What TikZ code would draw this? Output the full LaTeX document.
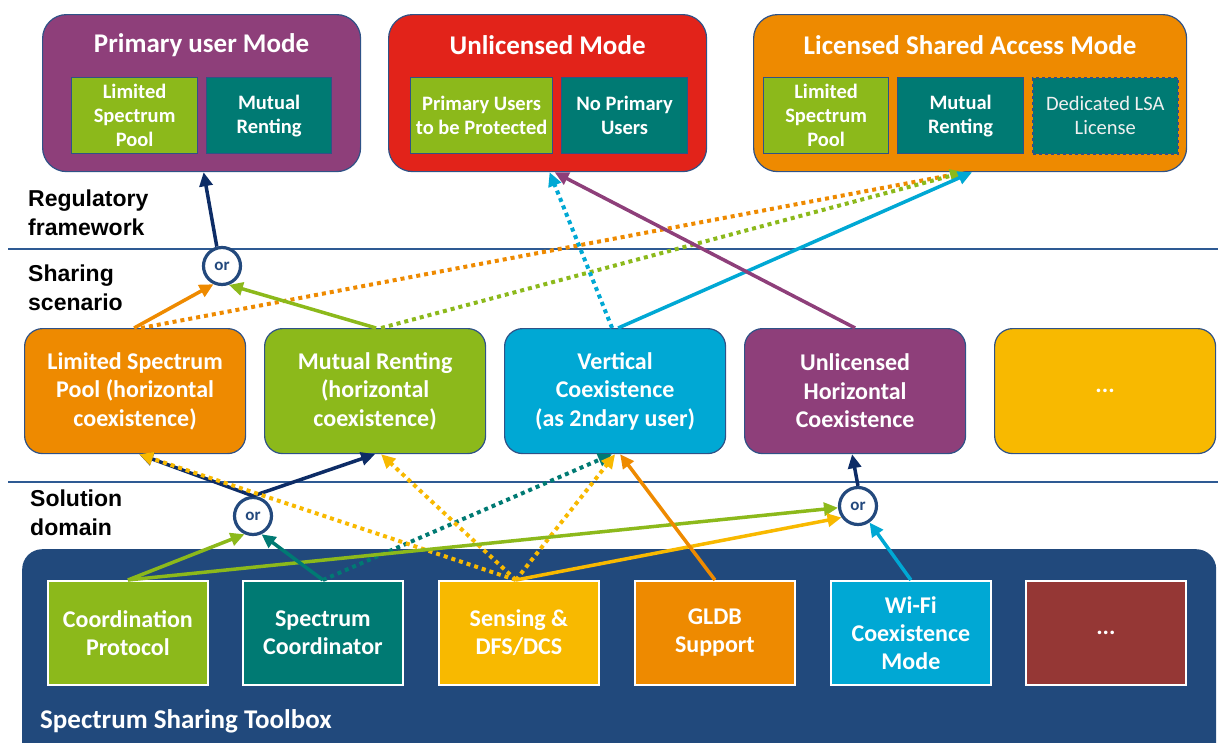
\documentclass[tikz,border=0pt]{standalone}
\usepackage{fontspec}
\setmainfont{Carlito}
\newfontfamily\labelfont{Liberation Sans}
\usetikzlibrary{arrows.meta}
\definecolor{cpurple}{HTML}{8E3F7A}
\definecolor{cred}{HTML}{E2231A}
\definecolor{corange}{HTML}{EE8A00}
\definecolor{cgreen}{HTML}{8CB91B}
\definecolor{cteal}{HTML}{007A73}
\definecolor{ccyan}{HTML}{00A8D4}
\definecolor{cyellow}{HTML}{F8B900}
\definecolor{cnavy}{HTML}{0D2C66}
\definecolor{cbox}{HTML}{21497C}
\definecolor{cdkred}{HTML}{953735}
\definecolor{cborder}{HTML}{2F5287}
\definecolor{cline}{HTML}{2E5A93}
\definecolor{corline}{HTML}{23497D}
\begin{document}
\begin{tikzpicture}[x=1pt,y=-1pt,
  modebox/.style={draw=cborder, line width=1.2pt, rounded corners=24pt, anchor=north west, minimum height=157pt, inner sep=0pt},
  titletext/.style={text=white, font=\fontsize{27}{30}\selectfont\bfseries},
  innerbox/.style={draw=cborder, line width=1.2pt, anchor=north west, minimum height=76pt, inner sep=0pt, text=white, align=center, font=\fontsize{20.5}{24}\selectfont\bfseries},
  midbox/.style={draw=cborder, line width=1.2pt, rounded corners=18pt, anchor=north west, minimum width=221pt, minimum height=125pt, inner sep=0pt, text=white, align=center, font=\fontsize{24}{28.5}\selectfont\bfseries},
  toolitem/.style={draw=white, line width=1.8pt, anchor=north west, minimum width=160pt, minimum height=104pt, inner sep=0pt, text=white, align=center, font=\fontsize{24}{28}\selectfont\bfseries},
  ornode/.style={circle, draw=corline, line width=3.2pt, fill=white, minimum size=37pt, inner sep=0pt, text=corline, font=\fontsize{17}{17}\selectfont\bfseries},
  seclabel/.style={anchor=west, align=left, inner sep=0pt, font=\labelfont\fontsize{23}{29}\selectfont\bfseries},
  divider/.style={draw=cline, line width=1.5pt},
  arr/.style={line width=3.5pt, -{Triangle[length=14pt,width=13pt]}},
  dotarr/.style={arr, line width=4pt, dash pattern=on 4pt off 4pt}
]
\useasboundingbox (0,0) rectangle (1218,742);
\clip (0,0) rectangle (1218,742);

% dividers
\coordinate (d1a) at (8,249); \coordinate (d1b) at (1218,249);
\coordinate (d2a) at (8,482); \coordinate (d2b) at (1218,482);
\draw[divider] (d1a) -- (d1b);
\draw[divider] (d2a) -- (d2b);

% section labels
\node[seclabel] (lreg) at (28,212.5) {Regulatory\\framework};
\node[seclabel] (lshare) at (28,287.5) {Sharing\\scenario};
\node[seclabel] (lsol) at (30,512.5) {Solution\\domain};

% mode boxes
\node[modebox, fill=cpurple, minimum width=318pt] (pum) at (42,14) {};
\node[titletext] (pumt) at ([yshift=-31pt]pum.north) {Primary user Mode};
\node[innerbox, fill=cgreen, minimum width=126pt] (pum1) at (71,77) {Limited\\Spectrum\\Pool};
\node[innerbox, fill=cteal, minimum width=125pt] (pum2) at (206,77) {Mutual\\Renting};

\node[modebox, fill=cred, minimum width=318pt] (um) at (388,14) {};
\node[titletext] (umt) at ([yshift=-31pt]um.north) {Unlicensed Mode};
\node[innerbox, fill=cgreen, minimum width=142pt] (um1) at (410,77) {Primary Users\\to be Protected};
\node[innerbox, fill=cteal, minimum width=126pt] (um2) at (561,77) {No Primary\\Users};

\node[modebox, fill=corange, minimum width=433pt] (lsa) at (753,14) {};
\node[titletext] (lsat) at ([yshift=-31pt]lsa.north) {Licensed Shared Access Mode};
\node[innerbox, fill=cgreen, minimum width=125pt] (lsa1) at (763,77) {Limited\\Spectrum\\Pool};
\node[innerbox, fill=cteal, minimum width=126pt] (lsa2) at (897,77) {Mutual\\Renting};
\node[innerbox, fill=cteal, minimum width=145pt, dashed, line width=1.6pt, font=\fontsize{20.5}{24}\selectfont, text=white!88!gray] (lsa3) at (1032,77) {Dedicated LSA\\License};

% scenario boxes
\node[midbox, fill=corange] (lsp) at (24,328) {Limited Spectrum\\Pool (horizontal\\coexistence)};
\node[midbox, fill=cgreen] (mr) at (264,328) {Mutual Renting\\(horizontal\\coexistence)};
\node[midbox, fill=ccyan] (vc) at (504,328) {Vertical\\Coexistence\\(as 2ndary user)};
\node[midbox, fill=cpurple] (uhc) at (744,328) {Unlicensed\\Horizontal\\Coexistence};
\node[midbox, fill=cyellow] (more) at (994,328) {...};

% toolbox
\node[fill=cbox, rounded corners=20pt, anchor=north west, minimum width=1194pt, minimum height=230pt, inner sep=0pt] (tb) at (22,549) {};
\node[anchor=west, inner sep=0pt, text=white, font=\fontsize{27}{30}\selectfont\bfseries] (tbl) at (40,721) {Spectrum Sharing Toolbox};
\node[toolitem, fill=cgreen] (cp) at (47,580) {Coordination\\Protocol};
\node[toolitem, fill=cteal] (sc) at (242,580) {Spectrum\\Coordinator};
\node[toolitem, fill=cyellow] (sdc) at (438,580) {Sensing \&\\DFS/DCS};
\node[toolitem, fill=corange] (gldb) at (634,580) {GLDB\\Support};
\node[toolitem, fill=ccyan] (wifi) at (830,580) {Wi-Fi\\Coexistence\\Mode};
\node[toolitem, fill=cdkred] (tmore) at (1025,580) {...};

% or nodes
\node[ornode] (or1) at (222,266) {or};
\node[ornode] (or2) at (253,516) {or};
\node[ornode] (or3) at (858,506) {or};

% upper arrows
\draw[arr, cnavy] (or1.105) -- ([xshift=2pt]pum.south);
\draw[dotarr, corange] ([xshift=6pt]lsp.north) -- ([xshift=-4pt]lsa.south);
\draw[dotarr, cgreen] ([xshift=6pt]mr.north) -- ([xshift=-6pt]lsa.south);
\draw[arr, corange] ([xshift=-1pt]lsp.north) -- (or1.245);
\draw[arr, cgreen] ([xshift=1pt]mr.north) -- (or1.290);
\draw[dotarr, ccyan] ([xshift=-3pt]vc.north) -- ([xshift=2pt]um.south);
\draw[arr, ccyan] ([xshift=3pt]vc.north) -- ([xshift=2pt]lsa.south);
\draw[arr, cpurple] (uhc.north) -- ([xshift=7pt]um.south);

% lower arrows
\draw[arr, cnavy] (or2.north) -- ([xshift=4pt]lsp.south);
\draw[arr, cnavy] (or2.north) -- (mr.south);
\draw[arr, cnavy] (or3.north) -- ([xshift=-3pt]uhc.south);
\draw[dotarr, cteal] (sc.north) -- ([xshift=-3pt]vc.south);
\draw[dotarr, cyellow] ([xshift=-3pt]sdc.north) -- ([xshift=4pt]lsp.south);
\draw[dotarr, cyellow] ([xshift=-3pt]sdc.north) -- ([xshift=6pt]mr.south);
\draw[dotarr, cyellow] ([xshift=-3pt]sdc.north) -- ([xshift=0pt]vc.south);
\draw[arr, cgreen] (cp.north) -- (or2.245);
\draw[arr, cgreen] (cp.north) -- (or3.185);
\draw[arr, cteal] (sc.north) -- (or2.295);
\draw[arr, cyellow] ([xshift=-3pt]sdc.north) -- (or3.215);
\draw[arr, corange] (gldb.north) -- ([xshift=5pt]vc.south);
\draw[arr, ccyan] (wifi.north) -- (or3.305);
\end{tikzpicture}
\end{document}
